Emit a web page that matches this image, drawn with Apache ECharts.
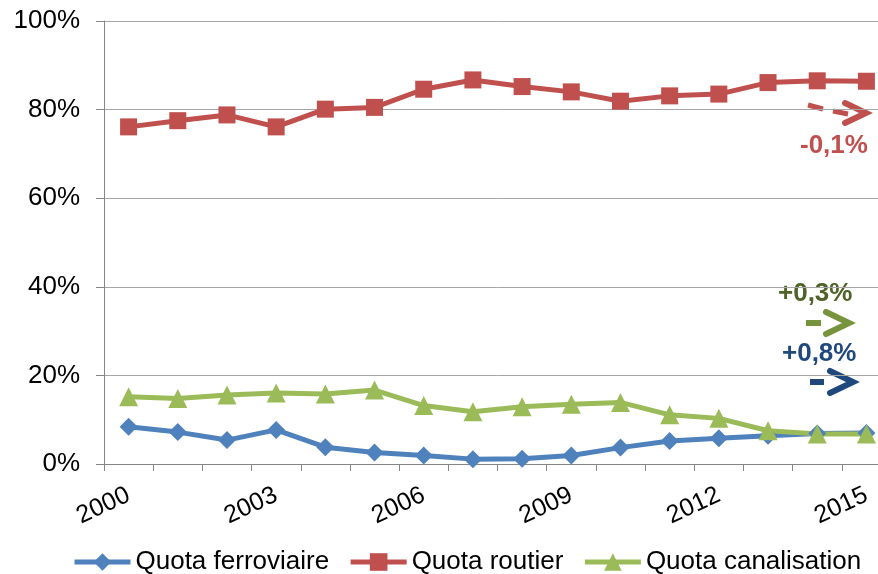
<!DOCTYPE html>
<html>
<head>
<meta charset="utf-8">
<style>
  html, body { margin: 0; padding: 0; background: #ffffff; overflow: hidden; }
  #chart { width: 891px; height: 574px; }
</style>
<script src="https://cdn.jsdelivr.net/npm/echarts@6/dist/echarts.min.js"></script>
</head>
<body>
<div id="chart"></div>
<script>
// Years on the category axis
const years = ['2000','2001','2002','2003','2004','2005','2006','2007',
               '2008','2009','2010','2011','2012','2013','2014','2015'];

// Modal shares, in percent
const quotaFerroviaire = [8.4, 7.2, 5.4, 7.7, 3.8, 2.6, 1.9, 1.1,
                          1.2, 1.9, 3.7, 5.2, 5.8, 6.4, 6.9, 7.0];
const quotaRoutier     = [76.1, 77.5, 78.8, 76.1, 80.1, 80.5, 84.6, 86.7,
                          85.2, 84.0, 81.9, 83.1, 83.5, 86.1, 86.5, 86.4];
const quotaCanalisation = [15.2, 14.8, 15.6, 16.0, 15.8, 16.7, 13.2, 11.8,
                           12.9, 13.5, 13.9, 11.1, 10.3, 7.5, 6.8, 6.8];

// Series names and trend labels
const seriesNames = ['Quota ferroviaire', 'Quota routier', 'Quota canalisation'];
const trendLabels = ['+0,8%', '-0,1%', '+0,3%'];

const FONT = '"Liberation Sans", Arial, sans-serif';
const chart = echarts.init(document.getElementById('chart'), null, { renderer: 'canvas' });

function lineSeries(name, data, color, symbol, size) {
  return {
    name: name,
    type: 'line',
    data: data,
    symbol: symbol,
    symbolSize: size,
    showAllSymbol: true,
    lineStyle: { color: color, width: 5 },
    itemStyle: { color: color },
    emphasis: { disabled: true },
    animation: false
  };
}

// Trend arrow: a dash followed by a chevron
function arrow(color, dashes, chevron, dashWidth, chevWidth) {
  const els = dashes.map(d => ({
    type: 'line',
    shape: { x1: d[0], y1: d[1], x2: d[2], y2: d[3] },
    style: { stroke: color, lineWidth: dashWidth, lineCap: 'butt' }
  }));
  els.push({
    type: 'polyline',
    shape: { points: chevron },
    style: { stroke: color, fill: null, lineWidth: chevWidth, lineCap: 'round', lineJoin: 'miter' }
  });
  return els;
}

function trendText(text, x, y, color) {
  return {
    type: 'text',
    x: x, y: y,
    style: {
      text: text, fill: color,
      font: 'bold 26px ' + FONT,
      align: 'left', verticalAlign: 'middle'
    }
  };
}

const option = {
  backgroundColor: '#ffffff',
  animation: false,
  grid: { left: 104, top: 21, right: 0, bottom: 110, containLabel: false },
  xAxis: {
    type: 'category',
    data: years,
    boundaryGap: true,
    axisLine: { show: true, lineStyle: { color: '#868686', width: 1 } },
    axisTick: { show: true, interval: 0, length: 7, lineStyle: { color: '#868686' } },
    axisLabel: {
      interval: 2,
      rotate: 25,
      margin: 30,
      color: '#000000',
      fontSize: 25,
      fontFamily: FONT
    },
    splitLine: { show: false }
  },
  yAxis: {
    type: 'value',
    min: 0, max: 100, interval: 20,
    axisLine: { show: true, lineStyle: { color: '#868686', width: 1 } },
    axisTick: { show: true, length: 8, lineStyle: { color: '#868686' } },
    axisLabel: {
      formatter: '{value}%',
      margin: 24,
      color: '#000000',
      fontSize: 26,
      fontFamily: FONT
    },
    splitLine: { show: true, lineStyle: { color: '#a6a6a6', width: 1 } }
  },
  legend: {
    data: seriesNames,
    top: 549,
    left: 72,
    padding: 0,
    itemWidth: 56,
    itemHeight: 22,
    itemGap: 19,
    lineStyle: { width: 5 },
    textStyle: { fontSize: 26, fontFamily: FONT, color: '#000000' }
  },
  series: [
    lineSeries(seriesNames[0], quotaFerroviaire, '#4f81bd', 'diamond', 18),
    lineSeries(seriesNames[1], quotaRoutier, '#c0504d', 'rect', 17),
    lineSeries(seriesNames[2], quotaCanalisation, '#9bbb59', 'triangle', 19)
  ],
  graphic: [].concat(
    arrow('#c0504d', [[808, 105, 823, 109], [833, 111, 848, 114]],
          [[845, 103], [866, 113], [845, 123]], 5, 6),
    [trendText(trendLabels[1], 800, 146, '#c0504d')],
    arrow('#77933c', [[806, 323, 821, 323]],
          [[826, 312], [849, 323], [826, 334]], 6, 6),
    [trendText(trendLabels[2], 778, 294, '#4f6228')],
    arrow('#1f497d', [[810, 382, 824, 382]],
          [[830, 371], [853, 382], [830, 393]], 6, 6),
    [trendText(trendLabels[0], 782, 354, '#1f497d')]
  )
};

chart.setOption(option);
</script>
</body>
</html>
